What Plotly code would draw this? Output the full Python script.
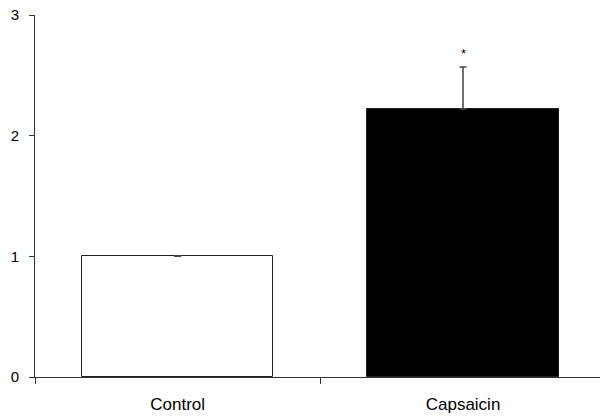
import plotly.graph_objects as go

categories = ["Control", "Capsaicin"]
values = [1.0, 2.22]
errors_up = [0.004, 0.35]
fill_colors = ["white", "black"]
significance = ["", "*"]
y_ticks = [0, 1, 2, 3]

xpos = list(range(len(categories)))

fig = go.Figure()
fig.add_trace(go.Bar(
    x=xpos, y=values, width=0.67,
    marker=dict(color=fill_colors, line=dict(color="#222222", width=1)),
    error_y=dict(type="data", array=errors_up, symmetric=False,
                 arrayminus=[0, 0], color="#444444", thickness=1.5, width=3.5),
    showlegend=False,
))
for x, v, e, s in zip(xpos, values, errors_up, significance):
    if s:
        fig.add_annotation(x=x, y=v + e, text=s, showarrow=False, yshift=13,
                           font=dict(family="Liberation Sans, Arial", size=13, color="black"))

fig.update_layout(
    width=600, height=416,
    margin=dict(l=35, r=0, t=15, b=39, pad=0),
    paper_bgcolor="white", plot_bgcolor="white",
    font=dict(family="Liberation Sans, Arial", size=15, color="black"),
    bargap=0,
)
fig.update_xaxes(
    range=[-0.5, 1.48], tickvals=xpos, ticktext=categories, ticks="",
    tickfont=dict(size=17), ticklabelstandoff=12, automargin=False,
    showline=True, linecolor="#333333", linewidth=1, showgrid=False, zeroline=False,
    minor=dict(tickvals=[-0.5, 0.5, 1.5], ticks="outside", ticklen=6,
               tickcolor="#333333", tickwidth=1, showgrid=False),
)
fig.update_yaxes(
    range=[0, 3], tickvals=y_ticks, ticks="outside", ticklen=5,
    tickfont=dict(size=15), ticklabelstandoff=7, automargin=False,
    tickcolor="#333333", showline=True, linecolor="#333333", linewidth=1,
    showgrid=False, zeroline=False,
)
fig.write_html("out.html", config={"displayModeBar": False},
               post_script="document.body.style.margin='0';document.body.style.overflow='hidden';")
